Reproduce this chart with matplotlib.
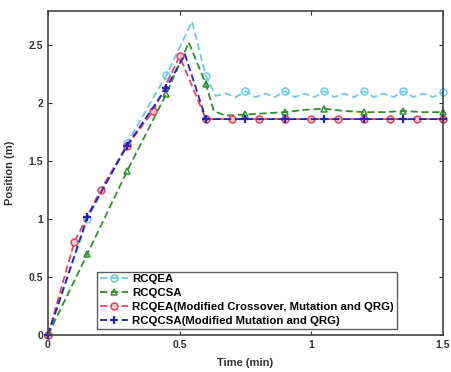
import matplotlib
matplotlib.use("Agg")
import matplotlib.pyplot as plt
import numpy as np

plt.rcParams["font.family"] = ["Liberation Sans", "DejaVu Sans"]

# RCQEA (light blue circles)
t_qea = [0, 0.15, 0.3, 0.45, 0.547, 0.6, 0.6375, 0.675, 0.7125, 0.75, 0.7875, 0.825, 0.8625,
         0.9, 0.9375, 0.975, 1.0125, 1.05, 1.0875, 1.125, 1.1625, 1.2, 1.2375, 1.275,
         1.3125, 1.35, 1.3875, 1.425, 1.4625, 1.5]
y_qea = [0, 1.0, 1.65, 2.24, 2.70, 2.23, 2.06, 2.08, 2.05, 2.10, 2.05, 2.08, 2.05,
         2.10, 2.05, 2.08, 2.05, 2.10, 2.05, 2.08, 2.05, 2.10, 2.05, 2.08,
         2.05, 2.10, 2.05, 2.08, 2.05, 2.09]
mk_qea = [0, 0.15, 0.3, 0.45, 0.6, 0.75, 0.9, 1.05, 1.2, 1.35, 1.5]

# RCQCSA (green triangles)
t_qcsa = [0, 0.15, 0.3, 0.45, 0.535, 0.6, 0.63, 0.675, 0.75, 0.825, 0.9, 0.975, 1.05,
          1.125, 1.2, 1.275, 1.35, 1.425, 1.5]
y_qcsa = [0, 0.70, 1.41, 2.08, 2.52, 2.16, 1.93, 1.89, 1.90, 1.91, 1.92, 1.94, 1.95,
          1.93, 1.92, 1.92, 1.93, 1.92, 1.92]
mk_qcsa = [0, 0.15, 0.3, 0.45, 0.6, 0.75, 0.9, 1.05, 1.2, 1.35, 1.5]

# RCQEA modified (red circles)
t_mqea = [0, 0.1, 0.2, 0.3, 0.4, 0.5, 0.6, 0.7, 0.8, 0.9, 1.0, 1.1, 1.2, 1.3, 1.4, 1.5]
y_mqea = [0, 0.80, 1.25, 1.63, 1.93, 2.40, 1.86, 1.86, 1.86, 1.86, 1.86, 1.86, 1.86,
          1.86, 1.86, 1.86]
mk_mqea = t_mqea

# RCQCSA modified (blue plus)
t_mqcsa = [0, 0.15, 0.3, 0.45, 0.52, 0.6, 0.75, 0.9, 1.05, 1.2, 1.35, 1.5]
y_mqcsa = [0, 1.02, 1.63, 2.13, 2.42, 1.86, 1.86, 1.86, 1.86, 1.86, 1.86, 1.86]
mk_mqcsa = [0, 0.15, 0.3, 0.45, 0.6, 0.75, 0.9, 1.05, 1.2, 1.35, 1.5]

labels = ["RCQEA", "RCQCSA",
          "RCQEA(Modified Crossover, Mutation and QRG)",
          "RCQCSA(Modified Mutation and QRG)"]


def idx(t, marks):
    t = np.array(t)
    return [int(np.argmin(np.abs(t - m))) for m in marks]


fig = plt.figure(figsize=(4.51, 3.72), dpi=100)
ax = fig.add_axes([0.1064, 0.0995, 0.8756, 0.8705])

dash = (0, (4, 2))
series = [
    (t_qea, y_qea, mk_qea, "#6cc9ea", "o", dict(markerfacecolor="none", markersize=5)),
    (t_qcsa, y_qcsa, mk_qcsa, "#2f8f2f", "^", dict(markerfacecolor="none", markersize=5)),
    (t_mqea, y_mqea, mk_mqea, "#e5455f", "o", dict(markerfacecolor="#f4c6cc", markersize=5)),
    (t_mqcsa, y_mqcsa, mk_mqcsa, "#2424b8", "+", dict(markersize=5.5, markeredgewidth=1.6)),
]
handles = []
for (t, y, mk, c, m, kw), lab in zip(series, labels):
    h, = ax.plot(t, y, color=c, linestyle=dash, linewidth=1.3, marker=m,
                 markevery=idx(t, mk), markeredgecolor=c, markeredgewidth=kw.pop("markeredgewidth", 1.1),
                 label=lab, clip_on=False, **kw)
    handles.append(h)

ax.set_xlim(0, 1.5)
ax.set_ylim(0, 2.79)
ax.set_xticks([0, 0.5, 1, 1.5])
ax.set_xticklabels(["0", "0.5", "1", "1.5"])
ax.set_yticks([0, 0.5, 1, 1.5, 2, 2.5])
ax.set_yticklabels(["0", "0.5", "1", "1.5", "2", "2.5"])
ax.tick_params(direction="in", top=True, right=True, length=3, width=0.8,
               labelsize=7.5, colors="#333333")
for lab in ax.get_xticklabels() + ax.get_yticklabels():
    lab.set_fontweight("bold")
for s in ax.spines.values():
    s.set_color("#444444")
    s.set_linewidth(1.2)

ax.set_xlabel("Time (min)", fontsize=8, fontweight="bold", color="#333333", labelpad=6)
ax.set_ylabel("Position (m)", fontsize=8, fontweight="bold", color="#333333", labelpad=10)

leg = ax.legend(handles=handles, loc="lower left", bbox_to_anchor=(0.125, 0.018),
                prop={"weight": "bold", "size": 8.2}, frameon=True,
                fancybox=False, edgecolor="#333333", handlelength=2.4, handletextpad=0.4,
                labelspacing=0.35, borderpad=0.25, borderaxespad=0)
leg.get_frame().set_linewidth(1.0)

fig.savefig("out.png", dpi=100)
